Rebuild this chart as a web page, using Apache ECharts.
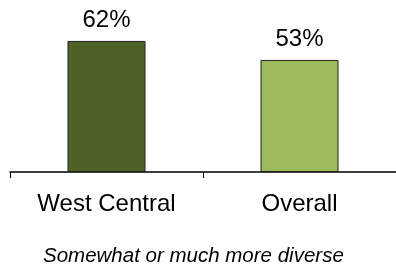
<!DOCTYPE html>
<html>
<head>
<meta charset="utf-8">
<script src="https://cdn.jsdelivr.net/npm/echarts@6/dist/echarts.min.js"></script>
<style>
html, body { margin: 0; padding: 0; background: #fff; }
#chart { width: 396px; height: 265px; }
</style>
</head>
<body>
<div id="chart"></div>
<script>
let categories = ['West Central', 'Overall']; // x축 카테고리
let values = [62, 53]; // 막대 값 (%)
let barColors = ['#4f6228', '#9bbb59']; // 막대 색
let caption = 'Somewhat or much more diverse';

window.onload = function() {
	var myChart = echarts.init(document.getElementById('chart'));
	var font = "'Liberation Sans', Arial, sans-serif";
	option = {
		animation: false,
		title: {
			text: caption,
			left: 38,
			top: 241,
			textStyle: { fontFamily: font, fontSize: 20.5, fontStyle: 'italic', fontWeight: 'normal', color: '#000' }
		},
		grid: { left: 10, width: 390, top: 24, height: 148 },
		xAxis: {
			type: 'category',
			data: categories,
			axisLine: { lineStyle: { color: '#000', width: 1.5 } },
			axisTick: { show: true, length: 6, lineStyle: { color: '#000', width: 1 } },
			axisLabel: { fontFamily: font, fontSize: 24, color: '#000', margin: 20 }
		},
		yAxis: {
			type: 'value',
			min: 0,
			max: 70,
			show: false,
			splitLine: { show: false }
		},
		series: [
			{
				type: 'bar',
				barWidth: 78,
				data: values.map(function(v, i) {
					return { value: v, itemStyle: { color: barColors[i] } };
				}),
				itemStyle: { borderColor: '#222', borderWidth: 1 },
				label: {
					show: true,
					position: 'top',
					distance: 9,
					formatter: '{c}%',
					fontFamily: font,
					fontSize: 24,
					color: '#000'
				}
			}
		]
	};
	myChart.setOption(option);
}
</script>
</body>
</html>
